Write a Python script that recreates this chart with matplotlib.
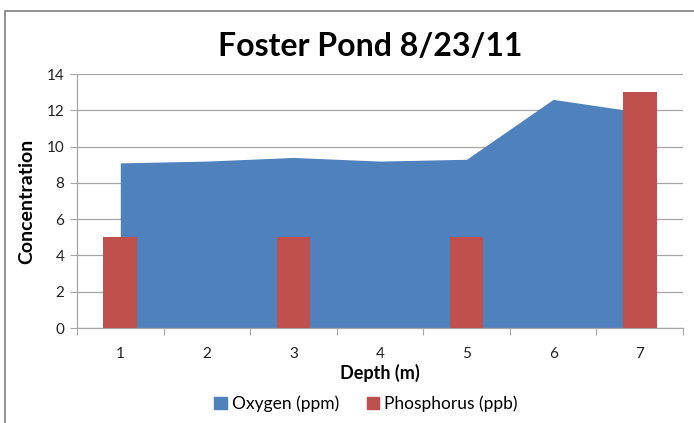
import matplotlib
matplotlib.use("Agg")
import matplotlib.pyplot as plt
from matplotlib.patches import Patch, Rectangle

plt.rcParams['font.family'] = ['Lato', 'DejaVu Sans']

# data
depth = [1, 2, 3, 4, 5, 6, 7]
oxygen = [9.1, 9.2, 9.4, 9.2, 9.3, 12.6, 11.9]
phosphorus = [5, 0, 5, 0, 5, 0, 13]
tick_labels = ['1', '2', '3', '4', '5', '6', '7']

blue = '#4F81BD'
red = '#C0504D'
grid = '#A6A6A6'

fig = plt.figure(figsize=(6.94, 4.23), dpi=100)
ax = fig.add_axes([77 / 694, 1 - 328 / 423, 606 / 694, 254 / 423])

ax.fill_between(depth, oxygen, 0, color=blue, linewidth=0, zorder=2)
ax.bar(depth, phosphorus, width=0.39, color=red, zorder=3)

ax.set_xlim(0.5, 7.5)
ax.set_ylim(0, 14)
ax.set_yticks(range(0, 15, 2))
ax.yaxis.grid(True, color=grid, linewidth=0.9, zorder=0)
ax.set_axisbelow(True)

# category axis: ticks between categories, labels at centres
ax.set_xticks([d + 0.5 for d in [0] + depth])
ax.set_xticklabels([])
ax.set_xticks(depth, minor=True)
ax.set_xticklabels(tick_labels, minor=True)
ax.tick_params(axis='x', which='major', length=5, color=grid, direction='out')
ax.tick_params(axis='x', which='minor', length=0, pad=14, labelsize=11, labelcolor='#222222')
ax.tick_params(axis='y', length=5, color=grid, direction='out', labelsize=11,
               labelcolor='#222222', pad=4)

for s in ['top', 'right']:
    ax.spines[s].set_visible(False)
for s in ['left', 'bottom']:
    ax.spines[s].set_color(grid)
    ax.spines[s].set_linewidth(0.9)

ax.set_xlabel('Depth (m)', fontsize=13, fontweight='bold', labelpad=2)
ax.set_ylabel('Concentration', fontsize=14, fontweight='bold', labelpad=8)
fig.text(370 / 694, 1 - 46 / 423, 'Foster Pond 8/23/11', ha='center', va='center',
         fontsize=23, fontweight='bold')

handles = [Patch(color=blue, label='Oxygen (ppm)'), Patch(color=red, label='Phosphorus (ppb)')]
fig.legend(handles=handles, loc='center', bbox_to_anchor=(366 / 694, 1 - 404 / 423), ncol=2,
           frameon=False, fontsize=12.5, handlelength=0.7, handleheight=0.7,
           handletextpad=0.3, columnspacing=1.6)

# chart frame
fig.patches.append(Rectangle((5 / 694, -0.05), 1.2, 1 - 11 / 423 + 0.05, transform=fig.transFigure,
                             fill=False, edgecolor='#7F7F7F', linewidth=1.2))

fig.savefig('out.png', dpi=100)
